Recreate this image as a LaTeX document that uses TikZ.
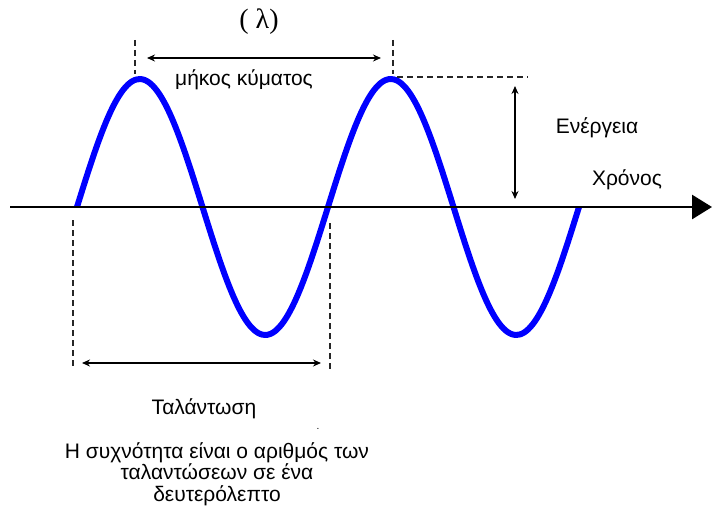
\documentclass[tikz,border=0pt]{standalone}
\usepackage{fontspec}
\setmainfont{Liberation Sans}
\newfontfamily\lamfont{Liberation Serif}
\usetikzlibrary{arrows.meta,positioning}

\tikzset{
  wave/.style={blue, line width=6pt, line join=round},
  axis/.style={line width=2.8pt, -{Triangle[length=20pt,width=24pt]}},
  guide/.style={line width=1.4pt, dash pattern=on 6pt off 4pt, black!85},
  span/.style={line width=1.3pt, {Stealth[length=8pt,width=7pt]}-{Stealth[length=8pt,width=7pt]}},
  lbl/.style={font=\fontsize{21}{21.5}\selectfont, inner sep=0pt},
}

\begin{document}
\begin{tikzpicture}[x=1pt,y=-1pt]
\useasboundingbox (0,0) rectangle (712,508);

% the wave, two periods (\x in degrees)
\draw[wave] plot[domain=0:720,samples=120,smooth] ({77+\x/360*251},{207-128*sin(\x)});

% time axis
\coordinate (ax0) at (10,207);
\coordinate (ax1) at (712,207);
\draw[axis] (ax0) -- (ax1);

% wavelength
\coordinate (g1a) at (135,40);
\coordinate (g1b) at (135,74);
\coordinate (g2a) at (393,40);
\coordinate (g2b) at (393,74);
\draw[guide] (g1a) -- (g1b);
\draw[guide] (g2a) -- (g2b);
\coordinate (l1) at (147,58);
\coordinate (l2) at (381,58);
\draw[span] (l1) -- (l2);
\node[inner sep=0pt, font=\lamfont\fontsize{28}{30}\selectfont] (lam) at (259,22) {( λ)};
\node[lbl] (wlen) at (244,80) {μήκος κύματος};

% energy
\coordinate (pk) at (397,77);
\coordinate (pkr) at (528,77);
\draw[guide] (pk) -- (pkr);
\coordinate (e1) at (515,86);
\coordinate (e2) at (515,199);
\draw[span] (e1) -- (e2);
\node[lbl] (en) at (597,128) {Ενέργεια};
\node[lbl] (time) at (627,180) {Χρόνος};

% oscillation
\coordinate (g3a) at (73,220);
\coordinate (g3b) at (73,368);
\coordinate (g4a) at (330,223);
\coordinate (g4b) at (330,372);
\draw[guide] (g3a) -- (g3b);
\draw[guide] (g4a) -- (g4b);
\coordinate (t1) at (82,363);
\coordinate (t2) at (321,363);
\draw[span] (t1) -- (t2);
\node[lbl] (osc) at (204,409) {Ταλάντωση};
\node[lbl, font=\fontsize{10}{12}\selectfont] (dot) at (318,429) {.};
\node[lbl, align=center] (freq) at (217,474)
  {Η συχνότητα είναι ο αριθμός των\\ταλαντώσεων σε ένα\\δευτερόλεπτο};
\end{tikzpicture}
\end{document}
